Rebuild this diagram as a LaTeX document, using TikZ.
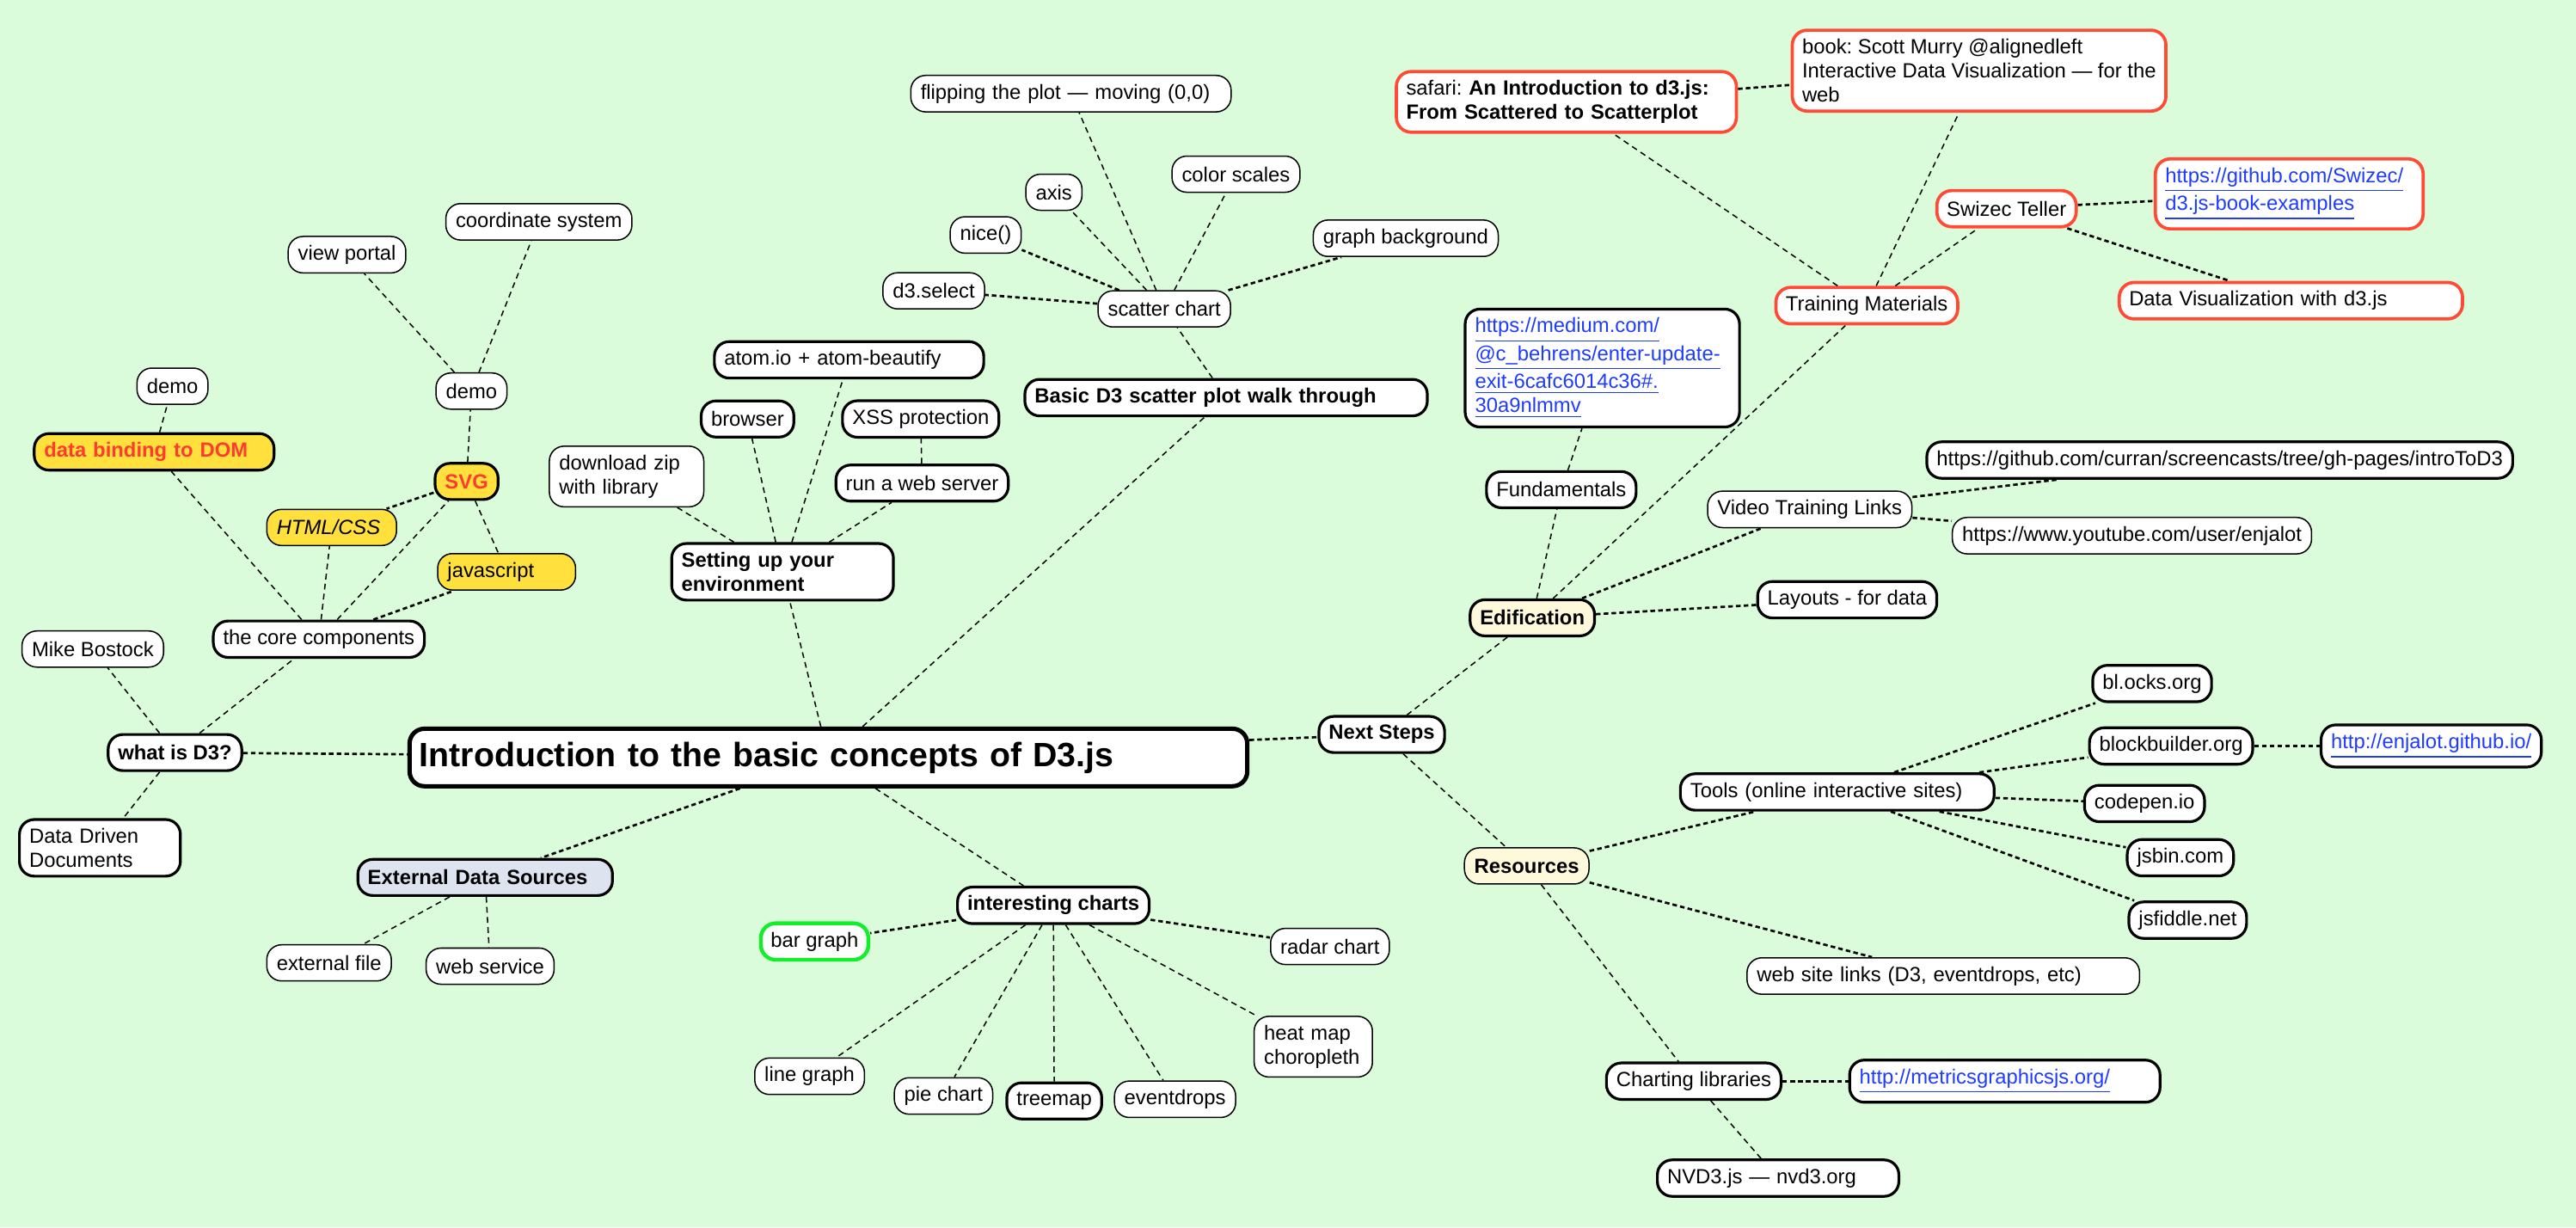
\documentclass[tikz,border=0pt]{standalone}
\usepackage{fontspec}
\setmainfont{Liberation Sans}
\frenchspacing

\definecolor{mapbg}{RGB}{218,252,218}
\definecolor{mapyellow}{RGB}{255,224,60}
\definecolor{mapredtext}{RGB}{255,59,47}
\definecolor{mapred}{RGB}{255,75,53}
\definecolor{mapgreen}{RGB}{18,238,42}
\definecolor{maplav}{RGB}{222,227,240}
\definecolor{mapcream}{RGB}{255,249,220}
\definecolor{maplinkblue}{RGB}{31,59,255}

\newcommand\mapfont{\fontsize{7.1}{8.4}\selectfont}
\newcommand\titlefont{\fontsize{11.7}{14}\selectfont\bfseries}
\newcommand\maplink[1]{\textcolor{maplinkblue}{\underline{#1}}}

\begin{document}
\begin{tikzpicture}[x=0.02cm, y=-0.02cm,
  leaf/.style={draw, fill=white, rounded corners=0.18cm, line width=0.45pt,
    inner xsep=0.12cm, inner ysep=3pt, minimum height=0.44cm, font=\mapfont, anchor=west},
  branch/.style={leaf, line width=0.95pt},
  ref/.style={leaf, draw=mapred, line width=1.1pt},
  tie/.style={line width=0.45pt, dash pattern=on 2pt off 1.5pt},
  tieb/.style={line width=0.8pt, dash pattern=on 1.6pt off 1.1pt}]

% Background
\fill[mapbg] (0,0) rectangle (1568,747);
\useasboundingbox (0,0) rectangle (1568,747);

% Central topic
\node[branch, line width=1.5pt, font=\titlefont, text width=9.96cm, align=left,
  minimum height=0.7cm] (intro) at (248,461) {Introduction to the basic concepts of D3.js};

% what is D3?
\node[branch, font=\mapfont\bfseries] (whatis) at (65,458) {what is D3?};
\node[leaf] (mike) at (13,395) {Mike Bostock};
\node[branch, text width=1.72cm, align=left] (ddd) at (11,516) {Data Driven\\Documents};
\node[branch] (core) at (129,389) {the core components};
\node[branch, fill=mapyellow, text=mapredtext, font=\mapfont\bfseries, text width=2.68cm,
  align=left] (binding) at (20,275) {data binding to DOM};
\node[leaf] (demoa) at (83,235) {demo};
\node[leaf, fill=mapyellow, font=\mapfont\itshape, text width=1.34cm, align=left] (htmlcss) at (162,321) {HTML/CSS};
\node[branch, fill=mapyellow, text=mapredtext, font=\mapfont\bfseries] (svg) at (264,293) {SVG};
\node[leaf, fill=mapyellow, text width=1.44cm, align=left] (js) at (266,348) {javascript};
\node[leaf] (demob) at (265,238) {demo};
\node[leaf] (viewport) at (175,155) {view portal};
\node[leaf] (coords) at (271,135) {coordinate system};

% Setting up your environment
\node[branch, font=\mapfont\bfseries, text width=2.46cm, align=left] (setup) at (408,348) {Setting up your\\environment};
\node[leaf, text width=1.64cm, align=left] (zip) at (334,290) {download zip\\with library};
\node[branch] (browser) at (426,255) {browser};
\node[branch, text width=3.04cm, align=left] (atom) at (434,219) {atom.io + atom-beautify};
\node[branch] (xss) at (512,255) {XSS protection};
\node[branch] (server) at (508,294) {run a web server};

% Scatter plot walk through
\node[branch, font=\mapfont\bfseries, text width=4.66cm, align=left] (basic) at (623,242) {Basic D3 scatter plot walk through};
\node[leaf] (scatter) at (668,188) {scatter chart};
\node[leaf] (select) at (537,177) {d3.select};
\node[leaf] (nice) at (578,143) {nice()};
\node[leaf] (axis) at (624,117) {axis};
\node[leaf, text width=3.66cm, align=left] (flip) at (554,57) {flipping the plot — moving (0,0)};
\node[leaf] (colors) at (713,106) {color scales};
\node[leaf] (graphbg) at (799,145) {graph background};

% External data
\node[branch, fill=maplav, font=\mapfont\bfseries, text width=2.86cm, align=left] (extdata) at (217,534) {External Data Sources};
\node[leaf] (extfile) at (162,586) {external file};
\node[leaf] (websvc) at (259,588) {web service};

% Interesting charts
\node[branch, font=\mapfont\bfseries] (charts) at (582,551) {interesting charts};
\node[leaf, draw=mapgreen, line width=1.3pt] (bar) at (462,573) {bar graph};
\node[leaf] (radar) at (773,576) {radar chart};
\node[leaf, text width=1.2cm, align=left] (heat) at (763,637) {heat map\\choropleth};
\node[leaf] (linegr) at (459,655) {line graph};
\node[leaf] (pie) at (544,667) {pie chart};
\node[branch] (treemap) at (612,670) {treemap};
\node[leaf] (drops) at (678,669) {eventdrops};

% Next steps
\node[branch, font=\mapfont\bfseries] (next) at (802,447) {Next Steps};
\node[branch, fill=mapcream, font=\mapfont\bfseries] (edif) at (894,376) {Edification};
\node[leaf, fill=mapcream, font=\mapfont\bfseries] (res) at (891,527) {Resources};

% Edification
\node[branch] (fund) at (904,298) {Fundamentals};
\node[branch, text width=3.1cm, align=left] (medium) at (891,224)
  {\maplink{https://medium.com/}\\\maplink{@c\_behrens/enter-update-}\\\maplink{exit-6cafc6014c36\#.}\\\maplink{30a9nlmmv}};
\node[ref] (training) at (1080,186) {Training Materials};
\node[ref, text width=3.9cm, align=left] (safari) at (849,62)
  {safari: \textbf{An Introduction to d3.js:}\\\textbf{From Scattered to Scatterplot}};
\node[ref, align=left] (book) at (1090,43)
  {book: Scott Murry @alignedleft\\Interactive Data Visualization — for the\\web};
\node[ref] (swizec) at (1178,127) {Swizec Teller};
\node[ref, text width=3.02cm, align=left] (swizecgit) at (1311,118)
  {\maplink{https://github.com/Swizec/}\\\maplink{d3.js-book-examples}};
\node[ref, text width=3.94cm, align=left] (datavis) at (1289,183) {Data Visualization with d3.js};
\node[leaf] (video) at (1039,310) {Video Training Links};
\node[branch] (curran) at (1172,280) {https://github.com/curran/screencasts/tree/gh-pages/introToD3};
\node[leaf] (youtube) at (1188,326) {https://www.youtube.com/user/enjalot};
\node[branch] (layouts) at (1069,365) {Layouts - for data};

% Resources
\node[branch, text width=3.58cm, align=left] (tools) at (1022,482) {Tools (online interactive sites)};
\node[branch] (blocks) at (1273,416) {bl.ocks.org};
\node[branch] (bb) at (1271,454) {blockbuilder.org};
\node[branch] (enjalot) at (1412,454) {\maplink{http://enjalot.github.io/}};
\node[branch] (codepen) at (1268,489) {codepen.io};
\node[branch] (jsbin) at (1294,522) {jsbin.com};
\node[branch] (jsfiddle) at (1295,560) {jsfiddle.net};
\node[leaf, text width=4.54cm, align=left] (sites) at (1063,594) {web site links (D3, eventdrops, etc)};
\node[branch] (charting) at (977,658) {Charting libraries};
\node[branch, text width=3.54cm, align=left] (metrics) at (1125,658) {\maplink{http://metricsgraphicsjs.org/}};
\node[branch, text width=2.7cm, align=left] (nvd3) at (1008,717) {NVD3.js — nvd3.org};

% Connectors: what is D3?
\draw[tieb] (whatis) -- (intro);
\draw[tie] (whatis) -- (mike);
\draw[tie] (whatis) -- (ddd);
\draw[tie] (whatis) -- (core);
\draw[tie] (core) -- (binding);
\draw[tie] (binding) -- (demoa);
\draw[tie] (core) -- (htmlcss);
\draw[tie] (core) -- (svg);
\draw[tieb] (core) -- (js);
\draw[tieb] (svg) -- (htmlcss);
\draw[tie] (svg) -- (js);
\draw[tie] (svg) -- (demob);
\draw[tie] (demob) -- (viewport);
\draw[tie] (demob) -- (coords);

% Connectors: environment
\draw[tie] (intro) -- (setup);
\draw[tie] (setup) -- (zip);
\draw[tie] (setup) -- (browser);
\draw[tie] (setup) -- (atom);
\draw[tie] (setup) -- (server);
\draw[tie] (server) -- (xss);

% Connectors: scatter plot
\draw[tie] (intro) -- (basic);
\draw[tie] (basic) -- (scatter);
\draw[tieb] (scatter) -- (select);
\draw[tieb] (scatter) -- (nice);
\draw[tie] (scatter) -- (axis);
\draw[tie] (scatter) -- (flip);
\draw[tie] (scatter) -- (colors);
\draw[tieb] (scatter) -- (graphbg);

% Connectors: external data and charts
\draw[tieb] (intro) -- (extdata);
\draw[tie] (extdata) -- (extfile);
\draw[tie] (extdata) -- (websvc);
\draw[tie] (intro) -- (charts);
\draw[tieb] (charts) -- (bar);
\draw[tieb] (charts) -- (radar);
\draw[tie] (charts) -- (heat);
\draw[tie] (charts) -- (linegr);
\draw[tie] (charts) -- (pie);
\draw[tie] (charts) -- (treemap);
\draw[tie] (charts) -- (drops);

% Connectors: next steps
\draw[tieb] (intro) -- (next);
\draw[tie] (next) -- (edif);
\draw[tie] (next) -- (res);
\draw[tie] (edif) -- (fund);
\draw[tie] (fund) -- (medium);
\draw[tie] (edif) -- (training);
\draw[tieb] (edif) -- (video);
\draw[tieb] (edif) -- (layouts);
\draw[tieb] (video) -- (curran);
\draw[tieb] (video) -- (youtube);
\draw[tie] (training) -- (safari);
\draw[tie] (training) -- (book);
\draw[tie] (training) -- (swizec);
\draw[tieb] (safari) -- (book);
\draw[tieb] (swizec) -- (swizecgit);
\draw[tieb] (swizec) -- (datavis);

% Connectors: resources
\draw[tieb] (res) -- (tools);
\draw[tieb] (res) -- (sites);
\draw[tie] (res) -- (charting);
\draw[tieb] (tools) -- (blocks);
\draw[tieb] (tools) -- (bb);
\draw[tieb] (tools) -- (codepen);
\draw[tieb] (tools) -- (jsbin);
\draw[tieb] (tools) -- (jsfiddle);
\draw[tieb] (bb) -- (enjalot);
\draw[tieb] (charting) -- (metrics);
\draw[tie] (charting) -- (nvd3);

\end{tikzpicture}
\end{document}
